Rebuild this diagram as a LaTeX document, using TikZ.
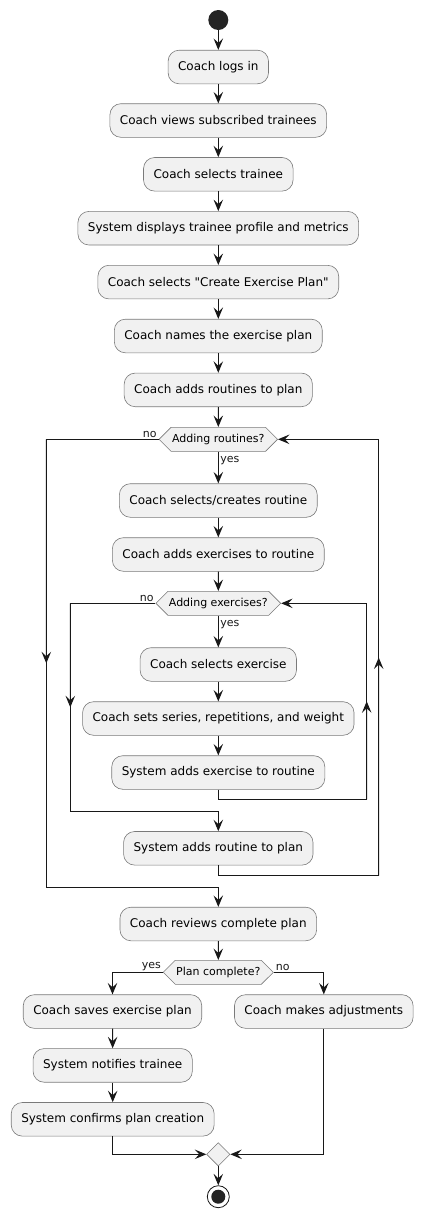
\documentclass[tikz,border=0pt]{standalone}
\usepackage{fontspec}
\setmainfont{DejaVu Sans}
\usetikzlibrary{positioning,arrows.meta,shapes.geometric,shapes.symbols,calc}
\definecolor{actfill}{HTML}{F1F1F1}
\definecolor{actline}{HTML}{7A7A7A}
\definecolor{flowc}{HTML}{181818}
\tikzset{
  act/.style={draw=actline, fill=actfill, rounded corners=11pt, line width=0.6pt,
              font=\fontsize{12}{14}\selectfont, inner xsep=10pt, inner ysep=0pt,
              minimum height=33.6pt},
  dec/.style={draw=actline, fill=actfill, signal, signal to=west and east,
              signal pointer angle=90, line width=0.6pt, font=\fontsize{11}{13}\selectfont,
              inner xsep=1pt, inner ysep=0pt, minimum height=24pt},
  merge/.style={draw=actline, fill=actfill, diamond, line width=0.6pt, inner sep=0pt,
                minimum width=23.4pt, minimum height=23.4pt},
  arr/.style={-{Stealth[length=11.5pt, width=9.5pt, inset=4.5pt]}, line width=1pt, draw=flowc},
  lbl/.style={font=\fontsize{11}{13}\selectfont, inner sep=1.5pt, text=flowc},
}
\begin{document}
\begin{tikzpicture}[x=1pt, y=-1pt]
  \useasboundingbox (0,0) rectangle (423,1218);

  \node[circle, fill=flowc!95, inner sep=0pt, minimum size=20pt] (start) at (218.3,20) {};
  \node[act] (a1) at (218.3,67) {Coach logs in};
  \node[act] (a2) at (218.3,120.5) {Coach views subscribed trainees};
  \node[act] (a3) at (218.3,174.3) {Coach selects trainee};
  \node[act] (a4) at (218.3,228.2) {System displays trainee profile and metrics};
  \node[act] (a5) at (218.3,282.1) {Coach selects \textquotedbl Create Exercise Plan\textquotedbl};
  \node[act] (a6) at (218.3,336) {Coach names the exercise plan};
  \node[act] (a7) at (218.3,389.9) {Coach adds routines to plan};
  \node[dec] (d1) at (218.3,439.3) {Adding routines?};
  \node[act] (a8) at (218.3,500.5) {Coach selects/creates routine};
  \node[act] (a9) at (218.3,554.5) {Coach adds exercises to routine};
  \node[dec] (d2) at (218.3,603.3) {Adding exercises?};
  \node[act] (a10) at (218.3,664.5) {Coach selects exercise};
  \node[act] (a11) at (218.3,718.5) {Coach sets series, repetitions, and weight};
  \node[act] (a12) at (218.3,772.5) {System adds exercise to routine};
  \node[act] (a13) at (218.3,848.3) {System adds routine to plan};
  \node[act] (a14) at (218.3,924) {Coach reviews complete plan};
  \node[dec] (d3) at (218.3,972.3) {Plan complete?};
  \node[act] (a15) at (112.5,1011.5) {Coach saves exercise plan};
  \node[act] (a16) at (323.8,1011.5) {Coach makes adjustments};
  \node[act] (a17) at (112.7,1065.4) {System notifies trainee};
  \node[act] (a18) at (112.7,1119.3) {System confirms plan creation};
  \node[merge] (m) at (218.3,1154.3) {};
  \node[circle, draw=flowc, line width=0.8pt, fill=white, inner sep=0pt, minimum size=22pt] (stop) at (218.3,1196.7) {};
  \node[circle, fill=flowc!95, inner sep=0pt, minimum size=14pt] at (stop) {};

  \coordinate (oL) at (46.3,887.3);
  \coordinate (oR) at (378.7,875.7);
  \coordinate (iL) at (70.3,811.3);
  \coordinate (iR) at (366.7,799.3);

  \foreach \u/\v in {start/a1, a1/a2, a2/a3, a3/a4, a4/a5, a5/a6, a6/a7, a7/d1,
                     a8/a9, a9/d2, a10/a11, a11/a12, a14/d3, a15/a17, a17/a18, m/stop}
    \draw[arr] (\u) -- (\v);

  \draw[arr] (d1.south) -- node[lbl, pos=0.28, right]{yes} (a8.north);
  \draw[arr] (d2.south) -- node[lbl, pos=0.28, right]{yes} (a10.north);

  \draw[arr] (a12.south) |- (iR) |- (d2.east);
  \draw[arr] (iR) -- ($(iR)!0.5!(iR |- d2.east)$);
  \draw[arr] (d2.west) node[lbl, above left]{no} -| (iL) -| (a13.north);
  \draw[arr] (d2.west -| iL) -- ($(d2.west -| iL)!0.5!(iL)$);

  \draw[arr] (a13.south) |- (oR) |- (d1.east);
  \draw[arr] (oR) -- ($(oR)!0.5!(oR |- d1.east)$);
  \draw[arr] (d1.west) node[lbl, above left]{no} -| (oL) -| (a14.north);
  \draw[arr] (d1.west -| oL) -- ($(d1.west -| oL)!0.5!(oL)$);

  \draw[arr] (d3.west) node[lbl, above left]{yes} -| (a15.north);
  \draw[arr] (d3.east) node[lbl, above right]{no} -| (a16.north);
  \draw[arr] (a18.south) |- (m.west);
  \draw[arr] (a16.south) |- (m.east);
\end{tikzpicture}
\end{document}
